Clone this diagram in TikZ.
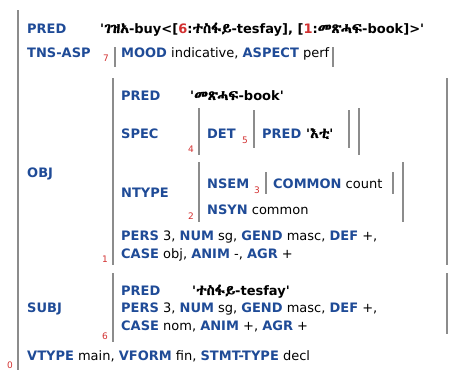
\documentclass[tikz,border=0pt]{standalone}
\usepackage{fontspec}
\usepackage{tikz}
\setmainfont{DejaVu Sans}[Ligatures=TeXOff]
\IfFontExistsTF{Abyssinica SIL}
  {\newfontfamily\ethfont[AutoFakeBold=2, Scale=1.12]{Abyssinica SIL}}
  {\newfontfamily\ethfont{DejaVu Sans}}
\definecolor{attrblue}{HTML}{1F4B97}
\definecolor{idxred}{HTML}{D23030}
\definecolor{bargray}{HTML}{8C8C8C}
\newcommand{\eth}[1]{{\ethfont\bfseries #1}}
\newcommand{\attrname}[1]{\textcolor{attrblue}{\bfseries #1}}
\newcommand{\rix}[1]{\textcolor{idxred}{#1}}

\begin{document}
\begin{tikzpicture}[
  x=1pt, y=-1pt,
  lbl/.style={anchor=base west, inner sep=0pt, font=\fontsize{13}{15}\selectfont},
  attr/.style={lbl, text=attrblue, font=\fontsize{13}{15}\selectfont\bfseries},
  idx/.style={anchor=base east, inner sep=0pt, text=idxred, font=\fontsize{9}{10}\selectfont},
  fbar/.style={draw=bargray, line width=1.6pt}
]
\useasboundingbox (0,0) rectangle (452,370);

% outer f-structure
\draw[fbar] (18,10) -- (18,370);
\node[attr] (pred0) at (27,33) {PRED};
\node[lbl] (pred0v) at (100,33) {\bfseries'\eth{ገዝአ}-buy<[\rix{6}:\eth{ተስፋይ}-tesfay], [\rix{1}:\eth{መጽሓፍ}-book]>'};

\node[attr] (tns) at (27,57) {TNS-ASP};
\node[idx] (i7) at (109,61) {7};
\draw[fbar] (115,47) -- (115,67);
\node[lbl] (tnsv) at (121,57) {\attrname{MOOD} indicative, \attrname{ASPECT} perf};
\draw[fbar] (333,47) -- (333,67);

% OBJ
\node[attr] (obj) at (27,177) {OBJ};
\draw[fbar] (113,78) -- (113,265);
\draw[fbar] (447,78) -- (447,265);
\node[idx] (i1) at (108,262) {1};
\node[attr] (objpred) at (121,100) {PRED};
\node[lbl] (objpredv) at (190,100) {\bfseries'\eth{መጽሓፍ}-book'};

\node[attr] (spec) at (121,138) {SPEC};
\node[idx] (i4) at (194,152) {4};
\draw[fbar] (199,108) -- (199,155);
\node[attr] (det) at (207,138) {DET};
\node[idx] (i5) at (248,143) {5};
\draw[fbar] (254,110) -- (254,148);
\node[attr] (detpred) at (262,138) {PRED};
\node[lbl] (detpredv) at (306,138) {\bfseries'\eth{እቲ}'};
\draw[fbar] (349,110) -- (349,148);
\draw[fbar] (359,108) -- (359,155);

\node[attr] (ntype) at (121,197) {NTYPE};
\node[idx] (i2) at (194,219) {2};
\draw[fbar] (199,162) -- (199,222);
\node[attr] (nsem) at (207,188) {NSEM};
\node[idx] (i3) at (260,193) {3};
\draw[fbar] (266,172) -- (266,194);
\node[lbl] (common) at (273,188) {\attrname{COMMON} count};
\draw[fbar] (393,172) -- (393,194);
\node[lbl] (nsyn) at (207,214) {\attrname{NSYN} common};
\draw[fbar] (403,162) -- (403,222);

\node[lbl] (objagr1) at (121,240) {\attrname{PERS} 3, \attrname{NUM} sg, \attrname{GEND} masc, \attrname{DEF} +,};
\node[lbl] (objagr2) at (121,258) {\attrname{CASE} obj, \attrname{ANIM} -, \attrname{AGR} +};

% SUBJ
\node[attr] (subj) at (27,312) {SUBJ};
\draw[fbar] (113,273) -- (113,342);
\draw[fbar] (447,273) -- (447,334);
\node[idx] (i6) at (108,339) {6};
\node[attr] (subjpred) at (121,295) {PRED};
\node[lbl] (subjpredv) at (192,295) {\bfseries'\eth{ተስፋይ}-tesfay'};
\node[lbl] (subjagr1) at (121,312) {\attrname{PERS} 3, \attrname{NUM} sg, \attrname{GEND} masc, \attrname{DEF} +,};
\node[lbl] (subjagr2) at (121,330) {\attrname{CASE} nom, \attrname{ANIM} +, \attrname{AGR} +};

% remaining features of the clause
\node[idx] (i0) at (13,368) {0};
\node[lbl] (vtype) at (27,360) {\attrname{VTYPE} main, \attrname{VFORM} fin, \attrname{STMT-TYPE} decl};
\end{tikzpicture}
\end{document}
